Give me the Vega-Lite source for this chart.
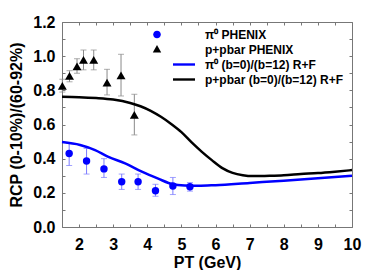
{
  "$schema": "https://vega.github.io/schema/vega-lite/v6.json",
  "width": 290,
  "height": 205,
  "autosize": "none",
  "padding": {"left": 62, "top": 22, "right": 22, "bottom": 43},
  "background": "white",
  "config": {
    "view": {"stroke": "#777", "strokeWidth": 1},
    "font": "Liberation Sans",
    "axis": {
      "labelFont": "Liberation Sans", "labelFontWeight": "bold", "labelFontSize": 16, "labelColor": "black",
      "titleFont": "Liberation Sans", "titleFontWeight": "bold", "titleFontSize": 16, "titleColor": "black",
      "domain": false, "tickColor": "#777", "tickSize": 3, "grid": false, "labelOverlap": false, "labelFlush": false
    }
  },
  "datasets": {
    "piData": [
      {"series": "π⁰ PHENIX", "pt": 1.71, "r": 0.43, "lo": 0.36, "hi": 0.49},
      {"series": "π⁰ PHENIX", "pt": 2.22, "r": 0.386, "lo": 0.31, "hi": 0.46},
      {"series": "π⁰ PHENIX", "pt": 2.73, "r": 0.34, "lo": 0.29, "hi": 0.40},
      {"series": "π⁰ PHENIX", "pt": 3.25, "r": 0.265, "lo": 0.22, "hi": 0.31},
      {"series": "π⁰ PHENIX", "pt": 3.73, "r": 0.265, "lo": 0.22, "hi": 0.31},
      {"series": "π⁰ PHENIX", "pt": 4.24, "r": 0.212, "lo": 0.18, "hi": 0.25},
      {"series": "π⁰ PHENIX", "pt": 4.75, "r": 0.24, "lo": 0.19, "hi": 0.29},
      {"series": "π⁰ PHENIX", "pt": 5.25, "r": 0.236, "lo": 0.21, "hi": 0.26}
    ],
    "ppData": [
      {"series": "p+pbar PHENIX", "pt": 1.51, "r": 0.826, "lo": 0.79, "hi": 0.865},
      {"series": "p+pbar PHENIX", "pt": 1.72, "r": 0.884, "lo": 0.85, "hi": 0.915},
      {"series": "p+pbar PHENIX", "pt": 1.94, "r": 0.94, "lo": 0.90, "hi": 0.985},
      {"series": "p+pbar PHENIX", "pt": 2.13, "r": 0.978, "lo": 0.92, "hi": 1.036},
      {"series": "p+pbar PHENIX", "pt": 2.43, "r": 0.978, "lo": 0.92, "hi": 1.036},
      {"series": "p+pbar PHENIX", "pt": 2.82, "r": 0.845, "lo": 0.773, "hi": 0.923},
      {"series": "p+pbar PHENIX", "pt": 3.23, "r": 0.888, "lo": 0.767, "hi": 1.011},
      {"series": "p+pbar PHENIX", "pt": 3.62, "r": 0.656, "lo": 0.539, "hi": 0.777}
    ],
    "piCurve": [
      {"series": "π⁰ (b=0)/(b=12) R+F", "pt": 1.5, "r": 0.497},
      {"series": "π⁰ (b=0)/(b=12) R+F", "pt": 2.03, "r": 0.48},
      {"series": "π⁰ (b=0)/(b=12) R+F", "pt": 2.47, "r": 0.45},
      {"series": "π⁰ (b=0)/(b=12) R+F", "pt": 2.86, "r": 0.41},
      {"series": "π⁰ (b=0)/(b=12) R+F", "pt": 3.35, "r": 0.373},
      {"series": "π⁰ (b=0)/(b=12) R+F", "pt": 3.84, "r": 0.324},
      {"series": "π⁰ (b=0)/(b=12) R+F", "pt": 4.32, "r": 0.283},
      {"series": "π⁰ (b=0)/(b=12) R+F", "pt": 4.75, "r": 0.25},
      {"series": "π⁰ (b=0)/(b=12) R+F", "pt": 5.1, "r": 0.243},
      {"series": "π⁰ (b=0)/(b=12) R+F", "pt": 5.5, "r": 0.241},
      {"series": "π⁰ (b=0)/(b=12) R+F", "pt": 6.0, "r": 0.245},
      {"series": "π⁰ (b=0)/(b=12) R+F", "pt": 7.0, "r": 0.258},
      {"series": "π⁰ (b=0)/(b=12) R+F", "pt": 8.0, "r": 0.271},
      {"series": "π⁰ (b=0)/(b=12) R+F", "pt": 9.0, "r": 0.285},
      {"series": "π⁰ (b=0)/(b=12) R+F", "pt": 10.0, "r": 0.30}
    ],
    "ppCurve": [
      {"series": "p+pbar (b=0)/(b=12) R+F", "pt": 1.5, "r": 0.762},
      {"series": "p+pbar (b=0)/(b=12) R+F", "pt": 2.0, "r": 0.76},
      {"series": "p+pbar (b=0)/(b=12) R+F", "pt": 2.5, "r": 0.755},
      {"series": "p+pbar (b=0)/(b=12) R+F", "pt": 3.0, "r": 0.746},
      {"series": "p+pbar (b=0)/(b=12) R+F", "pt": 3.5, "r": 0.726},
      {"series": "p+pbar (b=0)/(b=12) R+F", "pt": 3.8, "r": 0.707},
      {"series": "p+pbar (b=0)/(b=12) R+F", "pt": 4.1, "r": 0.68},
      {"series": "p+pbar (b=0)/(b=12) R+F", "pt": 4.4, "r": 0.645},
      {"series": "p+pbar (b=0)/(b=12) R+F", "pt": 4.7, "r": 0.603},
      {"series": "p+pbar (b=0)/(b=12) R+F", "pt": 5.0, "r": 0.555},
      {"series": "p+pbar (b=0)/(b=12) R+F", "pt": 5.3, "r": 0.495},
      {"series": "p+pbar (b=0)/(b=12) R+F", "pt": 5.6, "r": 0.44},
      {"series": "p+pbar (b=0)/(b=12) R+F", "pt": 5.9, "r": 0.39},
      {"series": "p+pbar (b=0)/(b=12) R+F", "pt": 6.2, "r": 0.345},
      {"series": "p+pbar (b=0)/(b=12) R+F", "pt": 6.5, "r": 0.317},
      {"series": "p+pbar (b=0)/(b=12) R+F", "pt": 6.8, "r": 0.303},
      {"series": "p+pbar (b=0)/(b=12) R+F", "pt": 7.1, "r": 0.298},
      {"series": "p+pbar (b=0)/(b=12) R+F", "pt": 7.6, "r": 0.30},
      {"series": "p+pbar (b=0)/(b=12) R+F", "pt": 8.0, "r": 0.303},
      {"series": "p+pbar (b=0)/(b=12) R+F", "pt": 8.5, "r": 0.31},
      {"series": "p+pbar (b=0)/(b=12) R+F", "pt": 9.0, "r": 0.316},
      {"series": "p+pbar (b=0)/(b=12) R+F", "pt": 9.5, "r": 0.324},
      {"series": "p+pbar (b=0)/(b=12) R+F", "pt": 10.0, "r": 0.333}
    ]
  },
  "resolve": {"axis": {"x": "independent", "y": "independent"}},
  "layer": [
    {
      "data": {"name": "piData"},
      "mark": {"type": "errorbar", "color": "#7a7aff", "ticks": {"size": 6}, "thickness": 1},
      "encoding": {
        "x": {"field": "pt", "type": "quantitative", "scale": {"domain": [1.5, 10], "nice": false, "zero": false},
          "axis": {"orient": "bottom", "title": "PT (GeV)", "values": [2, 3, 4, 5, 6, 7, 8, 9, 10], "format": "d",
            "ticks": false, "labelPadding": 9, "titlePadding": 2}},
        "y": {"field": "lo", "type": "quantitative", "scale": {"domain": [0, 1.2], "nice": false},
          "axis": {"orient": "left", "title": "RCP (0-10%)/(60-92%)", "values": [0, 0.2, 0.4, 0.6, 0.8, 1.0, 1.2], "format": ".1f",
            "ticks": false, "labelPadding": 7, "titleX": -38}},
        "y2": {"field": "hi"}
      }
    },
    {
      "data": {"name": "ppData"},
      "mark": {"type": "errorbar", "color": "#8a8a8a", "ticks": {"size": 6}, "thickness": 1},
      "encoding": {
        "x": {"field": "pt", "type": "quantitative",
          "axis": {"orient": "top", "title": null, "labels": false, "offset": -3, "values": [1.5, 2, 2.5, 3, 3.5, 4, 4.5, 5, 5.5, 6, 6.5, 7, 7.5, 8, 8.5, 9, 9.5, 10]}},
        "y": {"field": "lo", "type": "quantitative",
          "axis": {"orient": "right", "title": null, "labels": false, "offset": -3, "values": [0, 0.1, 0.2, 0.3, 0.4, 0.5, 0.6, 0.7, 0.8, 0.9, 1.0, 1.1, 1.2]}},
        "y2": {"field": "hi"}
      }
    },
    {
      "data": {"name": "piCurve"},
      "mark": {"type": "line", "strokeWidth": 2.5, "interpolate": "monotone", "color": "#0000ff"},
      "encoding": {
        "x": {"field": "pt", "type": "quantitative",
          "axis": {"orient": "bottom", "title": null, "labels": false, "offset": -3, "values": [1.5, 2, 2.5, 3, 3.5, 4, 4.5, 5, 5.5, 6, 6.5, 7, 7.5, 8, 8.5, 9, 9.5, 10]}},
        "y": {"field": "r", "type": "quantitative",
          "axis": {"orient": "left", "title": null, "labels": false, "offset": -3, "values": [0, 0.1, 0.2, 0.3, 0.4, 0.5, 0.6, 0.7, 0.8, 0.9, 1.0, 1.1, 1.2]}}
      }
    },
    {
      "data": {"name": "ppCurve"},
      "mark": {"type": "line", "strokeWidth": 2.5, "interpolate": "monotone", "color": "#000000"},
      "encoding": {
        "x": {"field": "pt", "type": "quantitative", "axis": null},
        "y": {"field": "r", "type": "quantitative", "axis": null}
      }
    },
    {
      "data": {"name": "piData"},
      "mark": {"type": "point", "shape": "circle", "filled": true, "size": 55, "opacity": 1, "color": "#0000ff"},
      "encoding": {
        "x": {"field": "pt", "type": "quantitative", "axis": null},
        "y": {"field": "r", "type": "quantitative", "axis": null}
      }
    },
    {
      "data": {"name": "ppData"},
      "mark": {"type": "point", "shape": "triangle-up", "filled": true, "size": 80, "opacity": 1, "color": "#000000"},
      "encoding": {
        "x": {"field": "pt", "type": "quantitative", "axis": null},
        "y": {"field": "r", "type": "quantitative", "axis": null}
      }
    },
    {
      "data": {"name": "piData"},
      "mark": {"type": "point", "filled": true, "opacity": 0},
      "encoding": {
        "x": {"field": "pt", "type": "quantitative", "axis": null},
        "y": {"field": "r", "type": "quantitative", "axis": null},
        "color": {"field": "series", "type": "nominal",
          "scale": {"domain": ["π⁰ PHENIX", "p+pbar PHENIX", "π⁰ (b=0)/(b=12) R+F", "p+pbar (b=0)/(b=12) R+F"],
            "range": ["#0000ff", "#000000", "#0000ff", "#000000"]},
          "legend": {
            "title": null, "orient": "none", "legendX": 116, "legendY": 6.5, "padding": 0,
            "symbolSize": 64, "symbolStrokeWidth": 0, "symbolOpacity": 1, "labelOffset": 15, "rowPadding": 3,
            "labelFont": "Liberation Sans", "labelFontWeight": "bold", "labelFontSize": 12, "labelColor": "black", "labelLimit": 300
          }},
        "shape": {"field": "series", "type": "nominal",
          "scale": {"domain": ["π⁰ PHENIX", "p+pbar PHENIX", "π⁰ (b=0)/(b=12) R+F", "p+pbar (b=0)/(b=12) R+F"],
            "range": ["M-7.7,0A0.95,0.95,0,1,1,-5.8,0A0.95,0.95,0,1,1,-7.7,0Z", "M-6.75,-1.1L-5.7,0.75L-7.8,0.75Z", "M-2.75,-0.3H2.75V0.3H-2.75Z", "M-2.75,-0.3H2.75V0.3H-2.75Z"]},
          "legend": {
            "title": null, "orient": "none", "legendX": 116, "legendY": 6.5, "padding": 0,
            "symbolSize": 64, "symbolStrokeWidth": 0, "symbolOpacity": 1, "labelOffset": 15, "rowPadding": 3,
            "labelFont": "Liberation Sans", "labelFontWeight": "bold", "labelFontSize": 12, "labelColor": "black", "labelLimit": 300
          }}
      }
    }
  ]
}
